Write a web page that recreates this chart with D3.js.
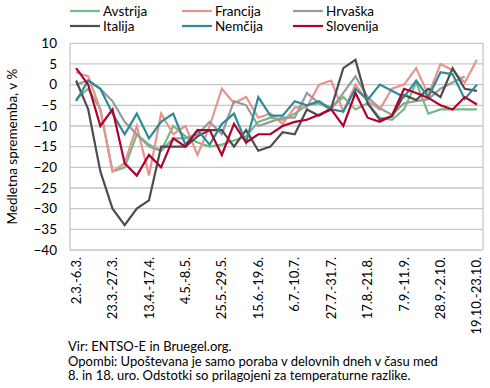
<!DOCTYPE html>
<html><head><meta charset="utf-8">
<script src="https://cdn.jsdelivr.net/npm/d3@7"></script>
<style>body{margin:0;background:#fff}svg{display:block}text{font-family:Lato,"Open Sans",sans-serif;fill:#000}</style>
</head><body><svg id="c" width="490" height="388"></svg>
<script>
const categories = ["2.3.-6.3.","9.3.-13.3.","16.3.-20.3.","23.3.-27.3.","30.3.-3.4.","6.4.-10.4.","13.4.-17.4.","20.4.-24.4.","27.4.-1.5.","4.5.-8.5.","11.5.-15.5.","18.5.-22.5.","25.5.-29.5.","1.6.-5.6.","8.6.-12.6.","15.6.-19.6.","22.6.-26.6.","29.6.-3.7.","6.7.-10.7.","13.7.-17.7.","20.7.-24.7.","27.7.-31.7.","3.8.-7.8.","10.8.-14.8.","17.8.-21.8.","24.8.-28.8.","31.8.-4.9.","7.9.-11.9.","14.9.-18.9.","21.9.-25.9.","28.9.-2.10.","5.10.-9.10.","12.10.-16.10.","19.10.-23.10."];
const yTicks = [10,5,0,-5,-10,-15,-20,-25,-30,-35,-40];
const seriesNames = ["Avstrija","Francija","Hrvaška","Italija","Nemčija","Slovenija"];
const avstrija = [-3.5,-1,-6,-21,-20,-12,-14.5,-16,-10,-12.5,-14,-15,-14.5,-13.5,-12.5,-9,-8,-8.5,-7,-5,-4.5,-5.5,-3,-6,-4.5,-8,-8.5,-6,0.5,-7,-6,-6,-6,-6];
const francija = [3,2,-6,-21,-19,-10,-22,-7,-12,-10,-17,-10,-1,-4.5,-3,-8,-7,-9.5,-5.5,-5.5,0,1,-6.5,0,-4,-6,-1,0,4,-2.5,5,3.5,0.5,6];
const hrvaska = [0,1,-1,-4,-9,-12,-15,-16,-13,-13,-12,-9,-12,-4,-5,-10,-9,-8,-8,-2,-4.5,-6,-2,2,-3,-5.7,-7.3,-4.5,-4,-3.5,-1,0.5,2,null];
const italija = [1,-6,-21,-30,-34,-30,-28,-15,-15,-15,-12.5,-11,-11,-15,-11,-16,-15,-11.5,-12,-6,-7.5,-5.7,4,6,-4.5,-8.5,-7.7,-2.5,-3.7,-1,-3,4,-1,-1.5];
const nemcija = [-4,1,-1,-7,-12,-7,-13,-9,-7,-14.5,-11,-14.5,-9.5,-7,-14,-3,-7.5,-7.5,-4,-5,-4,-6,-6.5,-1,-3.7,0,-1.5,-3,1,-3,3,2.5,-3.5,0];
const slovenija = [4,0,-10,-6,-19,-22,-17,-20,-13,-15,-11,-11,-17,-9.5,-14,-12,-12,-10,-9,-8.5,-7.3,-6,-10,-2,-8,-9,-7.5,-1,-2,-3.2,-5,-6,-3,-4.8];
const colors = ["#74bb82","#e8938f","#9a9a9a","#4d4d4d","#2b8c97","#b3002d"];
const allSeries = [avstrija,francija,hrvaska,italija,nemcija,slovenija];
const yTitle = "Medletna sprememba, v %";
const notes = ["Vir: ENTSO-E in Bruegel.org.","Opombi: Upoštevana je samo poraba v delovnih dneh v času med","8. in 18. uro. Odstotki so prilagojeni za temperaturne razlike."];

const svg = d3.select("#c");
const L=70,R=483,T=43.3,B=250;
const x = d3.scaleBand().domain(categories).range([L,R]);
const y = d3.scaleLinear().domain([-40,10]).range([B,T]);

// gridlines
svg.append("g").selectAll("line").data(yTicks).join("line")
  .attr("x1",L).attr("x2",R).attr("y1",d=>y(d)).attr("y2",d=>y(d))
  .attr("stroke","#c6c6c6").attr("stroke-width",1.3);
svg.append("line").attr("x1",L).attr("x2",L).attr("y1",T).attr("y2",B).attr("stroke","#c6c6c6").attr("stroke-width",1.3);
svg.append("line").attr("x1",R).attr("x2",R).attr("y1",T).attr("y2",B).attr("stroke","#c6c6c6").attr("stroke-width",1.3);

// y axis
const ya = svg.append("g").attr("transform",`translate(${L},0)`)
  .call(d3.axisLeft(y).tickValues(yTicks).tickSize(0).tickPadding(13));
ya.select(".domain").remove();
ya.selectAll("text").style("font-size","13.5px").style("font-family","Lato,sans-serif");

svg.append("text").attr("transform",`translate(17,${(T+B)/2}) rotate(-90)`)
  .attr("text-anchor","middle").style("font-size","13.5px").text(yTitle);

// x axis
const xa = svg.append("g").attr("transform",`translate(0,${B})`)
  .call(d3.axisBottom(x).tickValues(categories.filter((d,i)=>i%3===0)).tickSize(0));
xa.select(".domain").remove();
xa.selectAll("text").attr("transform","rotate(-90)").attr("text-anchor","end")
  .attr("x",-7).attr("y",0).attr("dx",0).attr("dy","0.35em")
  .style("font-size","13px").style("font-family","Lato,sans-serif");

// lines
const line = d3.line().defined(d=>d!=null).x((d,i)=>x(categories[i])+x.bandwidth()/2).y(d=>y(d));
allSeries.forEach((s,k)=>{
  svg.append("path").datum(s).attr("d",line).attr("fill","none")
    .attr("stroke",colors[k]).attr("stroke-width",2.2).attr("stroke-linejoin","miter");
});

// legend
const lx=[70,182,293], ly=[11,26];
seriesNames.forEach((n,k)=>{
  const gx=lx[k%3], gy=ly[Math.floor(k/3)];
  svg.append("line").attr("x1",gx).attr("x2",gx+30).attr("y1",gy).attr("y2",gy).attr("stroke",colors[k]).attr("stroke-width",2.2);
  svg.append("text").attr("x",gx+33).attr("y",gy+4.5).style("font-size","13.5px").text(n);
});

// notes
notes.forEach((t,i)=>{
  svg.append("text").attr("x",68).attr("y",351+i*14.5).style("font-size","13px").text(t);
});
</script></body></html>
